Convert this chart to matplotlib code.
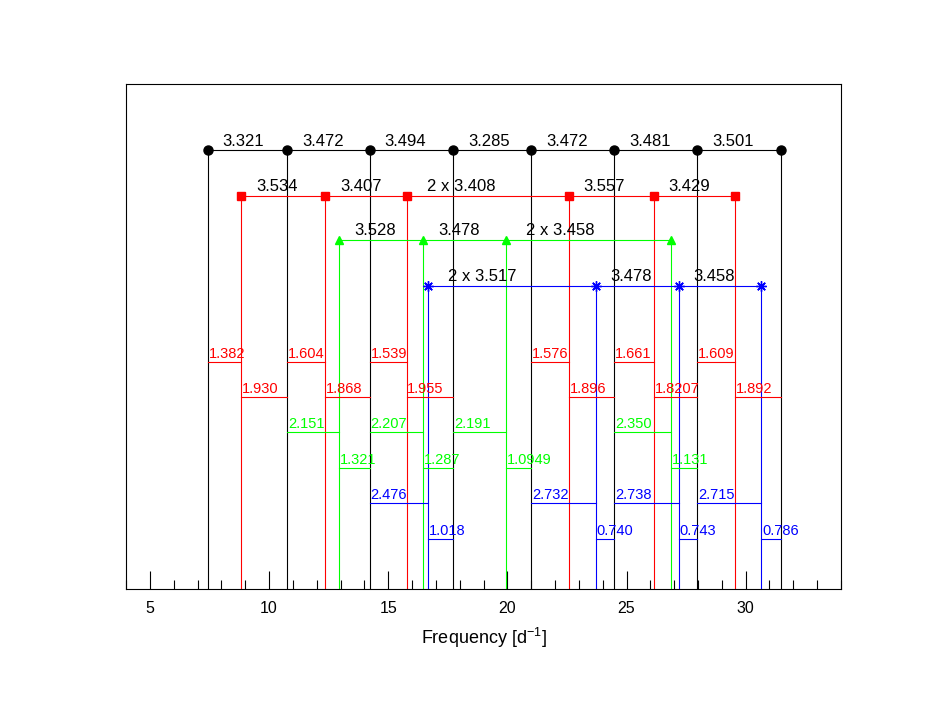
import numpy as np
import matplotlib
matplotlib.use("Agg")
import matplotlib.pyplot as plt

plt.rcParams['font.family'] = ['Liberation Sans', 'DejaVu Sans']
plt.rcParams['mathtext.fontset'] = 'custom'
plt.rcParams['mathtext.rm'] = 'Liberation Sans'
plt.rcParams['mathtext.it'] = 'Liberation Sans'

# comb frequencies [1/d]
black_freq = [7.44, 10.76, 14.23, 17.73, 21.01, 24.48, 27.96, 31.47]
red_freq = [8.83, 12.36, 15.77, 22.58, 26.14, 29.57]
green_freq = [12.95, 16.48, 19.95, 26.87]
blue_freq = [16.68, 23.72, 27.20, 30.66]

# spacing labels above each comb
black_spacing = ["3.321", "3.472", "3.494", "3.285", "3.472", "3.481", "3.501"]
red_spacing = ["3.534", "3.407", "2 x 3.408", "3.557", "3.429"]
green_spacing = ["3.528", "3.478", "2 x 3.458"]
blue_spacing = ["2 x 3.517", "3.478", "3.458"]

# distances to the black comb: (black below -> line), (line -> black above)
red_lo = ["1.382", "1.604", "1.539", "1.576", "1.661", "1.609"]
red_hi = ["1.930", "1.868", "1.955", "1.896", "1.8207", "1.892"]
green_lo = ["2.151", "2.207", "2.191", "2.350"]
green_hi = ["1.321", "1.287", "1.0949", "1.131"]
blue_lo = ["2.476", "2.732", "2.738", "2.715"]
blue_hi = ["1.018", "0.740", "0.743", "0.786"]

fig = plt.figure(figsize=(9.26, 7.16), dpi=100)
ax = fig.add_axes([0.1361, 0.1774, 0.7721, 0.7053])
ax.set_xlim(4, 34)
ax.set_ylim(0, 1)

combs = [
    (black_freq, black_spacing, "black", "o", 6.5, 0.869),
    (red_freq, red_spacing, "#ff0000", "s", 5.2, 0.779),
    (green_freq, green_spacing, "#00ff00", "^", 6.0, 0.691),
    (blue_freq, blue_spacing, "#0000ff", (8, 2, 0), 7.5, 0.600),
]

for freq, labels, col, mk, ms, lev in combs:
    ax.vlines(freq, 0, lev, color=col, lw=0.8, zorder=2)
    ax.plot([freq[0], freq[-1]], [lev, lev], color=col, lw=0.8, zorder=2)
    ax.plot(freq, [lev] * len(freq), ls="none", marker=mk, ms=ms,
            color=col, mec=col, mew=1, zorder=4)
    for f, lab in zip(freq[:-1], labels):
        off = 0.84 if lab.startswith("2 x") else 0.62
        ax.text(f + off, lev + 0.009, lab, fontsize=12, color="black",
                ha="left", va="baseline", zorder=5)

bf = np.array(black_freq)
rows = [
    (red_freq, red_lo, red_hi, "#ff0000", 0.4495, 0.3796),
    (green_freq, green_lo, green_hi, "#00ff00", 0.3103, 0.2402),
    (blue_freq, blue_lo, blue_hi, "#0000ff", 0.1697, 0.099),
]
for freq, lo_lab, hi_lab, col, y_lo, y_hi in rows:
    for f, l1, l2 in zip(freq, lo_lab, hi_lab):
        below = bf[bf < f].max()
        above = bf[bf > f].min()
        ax.plot([below, f], [y_lo, y_lo], color=col, lw=0.8, zorder=3)
        ax.text(below + 0.03, y_lo + 0.008, l1, color=col, fontsize=10.5,
                ha="left", va="baseline", zorder=5)
        ax.plot([f, above], [y_hi, y_hi], color=col, lw=0.8, zorder=3)
        ax.text(f + 0.03, y_hi + 0.008, l2, color=col, fontsize=10.5,
                ha="left", va="baseline", zorder=5)

ax.set_xticks(range(5, 35, 5))
ax.set_xticks(range(4, 35), minor=True)
ax.set_yticks([])
ax.tick_params(axis="x", which="major", direction="in", length=13, width=0.8,
               labelsize=11.5, pad=9)
ax.tick_params(axis="x", which="minor", direction="in", length=6.5, width=0.8)
for s in ax.spines.values():
    s.set_linewidth(0.8)
ax.set_xlabel("Frequency [d$^{-1}$]", fontsize=13, labelpad=7)

fig.savefig("out.png", dpi=100)
